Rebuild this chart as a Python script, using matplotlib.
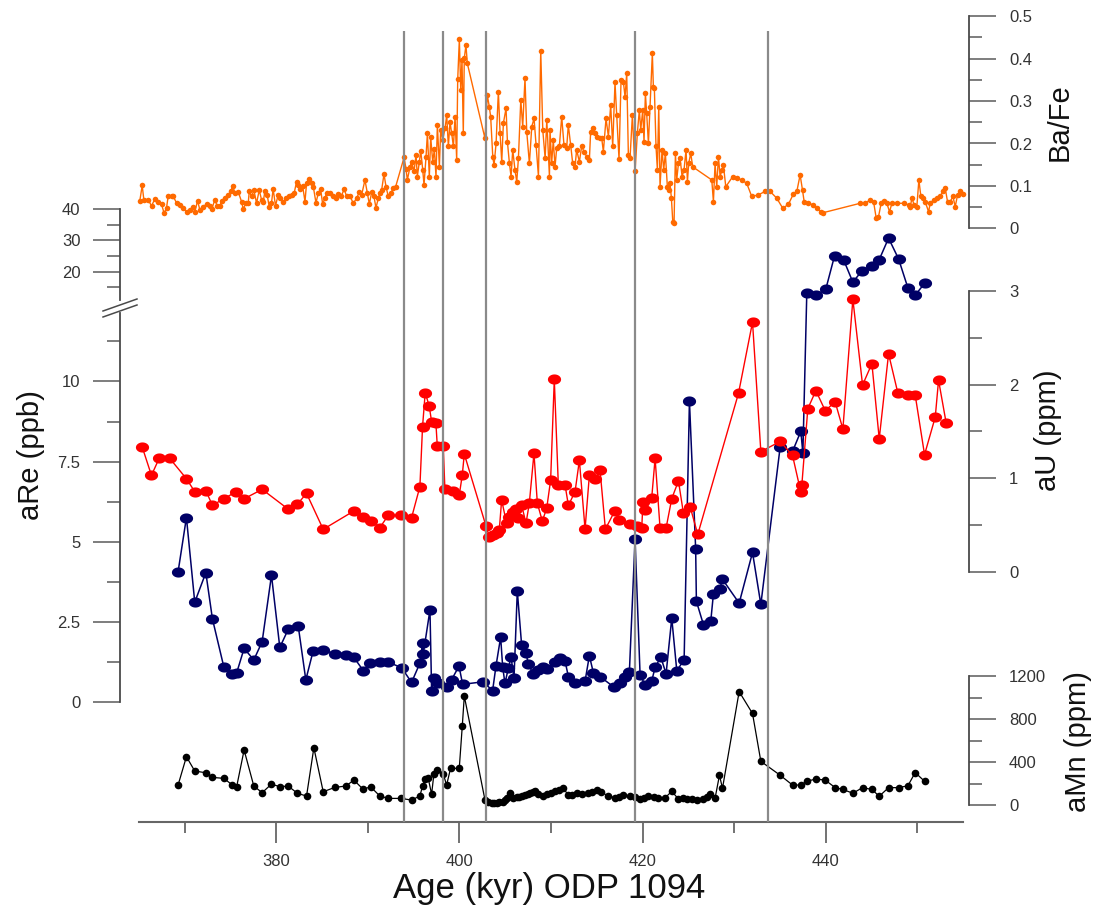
import numpy as np
import matplotlib
matplotlib.use('Agg')
import matplotlib.pyplot as plt
from matplotlib import font_manager
from matplotlib.path import Path
from matplotlib.lines import Line2D

# ---------------- data ----------------
# Ba/Fe (orange)
bafe_age = [
    365.09, 365.35, 365.53, 366.00, 366.37, 366.73, 367.10, 367.46, 367.75, 368.01,
    368.19, 368.55, 368.74, 369.10, 369.46, 369.83, 370.19, 370.56, 370.92, 371.10,
    371.40, 371.65, 372.01, 372.38, 372.74, 372.93, 373.29, 373.54, 373.84, 374.02,
    374.38, 374.75, 375.04, 375.22, 375.48, 375.84, 376.20, 376.39, 376.68, 376.93,
    377.04, 377.30, 377.55, 377.84, 378.13, 378.39, 378.57, 378.75, 379.00, 379.22,
    379.47, 379.65, 379.91, 380.20, 380.45, 380.75, 381.11, 381.40, 381.66, 381.95,
    382.21, 382.40, 382.58, 382.87, 383.13, 383.31, 383.60, 383.85, 384.04, 384.33,
    384.58, 384.84, 385.06, 385.31, 385.49, 385.86, 386.22, 386.51, 386.77, 387.06,
    387.42, 387.68, 388.04, 388.41, 388.77, 389.06, 389.32, 389.68, 389.94, 390.16,
    390.41, 390.67, 390.88, 391.14, 391.32, 391.50, 391.76, 391.98, 392.23, 392.49,
    392.78, 393.03, 393.95, 394.16, 394.31, 394.60, 394.78, 395.04, 395.26, 395.40,
    395.62, 395.77, 395.99, 396.13, 396.35, 396.50, 396.71, 396.86, 397.08, 397.26,
    397.44, 397.59, 397.81, 397.95, 398.17, 398.43, 398.61, 398.79, 398.97, 399.15,
    399.34, 399.52, 399.70, 399.81, 399.99, 400.14, 400.28, 400.42, 400.53, 400.71,
    400.86, 402.79, 403.04, 403.26, 403.41, 403.64, 403.78, 404.00, 404.25, 404.44,
    404.62, 404.80, 405.09, 405.24, 405.46, 405.64, 405.82, 406.07, 406.26, 406.44,
    406.70, 406.91, 407.16, 407.35, 407.64, 407.90, 408.15, 408.37, 408.63, 408.88,
    409.10, 409.36, 409.54, 409.83,
    409.89, 410.07, 410.25, 410.44, 410.62, 410.91, 411.17, 411.42, 411.71, 411.89,
    412.15, 412.37, 412.62, 412.80, 413.10, 413.35, 413.61, 413.90, 414.19, 414.33,
    414.55, 414.81, 415.06, 415.35, 415.54, 415.72, 416.01, 416.27, 416.52, 416.74,
    416.99, 417.18, 417.43, 417.65, 417.90, 418.09, 418.27, 418.45, 418.63, 418.89,
    419.18, 419.43, 419.65, 419.80, 420.02, 420.16, 420.31, 420.45, 420.64, 420.82,
    421.07, 421.18, 421.29, 421.47, 421.62, 421.77, 421.91, 422.13, 422.31, 422.49,
    422.71, 422.86, 423.00, 423.15, 423.30, 423.44, 423.59, 423.73, 423.92, 424.10,
    424.32, 424.53, 424.75, 424.90, 425.04, 425.26, 425.48, 427.56, 427.74, 427.92,
    428.10, 428.29, 428.47, 428.69, 428.83, 429.09, 429.85, 430.36, 430.84, 431.38,
    431.93, 432.66, 433.39, 433.93, 434.66, 435.32, 435.94, 436.48, 436.85, 437.21,
    437.47, 437.65, 438.12, 438.67, 439.03, 439.47, 439.76, 443.77, 444.32, 444.86,
    445.23, 445.52, 445.77, 446.06, 446.32, 446.68, 446.98, 447.23, 447.78, 448.51,
    449.05, 449.24, 449.42, 449.67, 449.96, 450.18, 450.40, 450.62, 450.87, 451.24,
    451.42, 451.78, 452.15, 452.51, 452.80, 453.06, 453.31, 453.60, 453.90, 454.15,
    454.41, 454.70, 454.99,
]
bafe_val = [
    0.065, 0.101, 0.067, 0.067, 0.053, 0.069, 0.063, 0.057, 0.035, 0.049,
    0.076, 0.076, 0.075, 0.060, 0.055, 0.047, 0.039, 0.043, 0.051, 0.039,
    0.065, 0.043, 0.051, 0.057, 0.053, 0.045, 0.067, 0.053, 0.053, 0.065,
    0.071, 0.079, 0.087, 0.100, 0.084, 0.086, 0.063, 0.045, 0.060, 0.059,
    0.087, 0.075, 0.090, 0.059, 0.090, 0.067, 0.063, 0.087, 0.079, 0.051,
    0.059, 0.093, 0.053, 0.079, 0.072, 0.063, 0.071, 0.076, 0.079, 0.083,
    0.110, 0.102, 0.092, 0.100, 0.063, 0.108, 0.117, 0.106, 0.098, 0.060,
    0.083, 0.092, 0.057, 0.071, 0.083, 0.084, 0.076, 0.071, 0.081, 0.075,
    0.092, 0.075, 0.076, 0.059, 0.071, 0.085, 0.079, 0.114, 0.083, 0.057,
    0.085, 0.075, 0.048, 0.071, 0.083, 0.090, 0.128, 0.098, 0.075, 0.083,
    0.094, 0.098, 0.167, 0.141, 0.114, 0.145, 0.157, 0.134, 0.173, 0.122,
    0.157, 0.183, 0.138, 0.102, 0.169, 0.224, 0.122, 0.215, 0.157, 0.186,
    0.122, 0.244, 0.145, 0.232, 0.208, 0.236, 0.267, 0.193, 0.251, 0.224,
    0.193, 0.263, 0.161, 0.351, 0.446, 0.326, 0.397, 0.224, 0.401, 0.432,
    0.389, 0.212, 0.314, 0.287, 0.263, 0.169, 0.149, 0.200, 0.322, 0.224,
    0.157, 0.248, 0.283, 0.204, 0.153, 0.122, 0.185, 0.137, 0.110, 0.165,
    0.303, 0.240, 0.354, 0.228, 0.153, 0.240, 0.259, 0.196, 0.122, 0.419,
    0.232, 0.165, 0.255, 0.122,
    0.232, 0.153, 0.208, 0.145, 0.189, 0.193, 0.263, 0.196, 0.189, 0.244,
    0.196, 0.153, 0.145, 0.185, 0.157, 0.193, 0.181, 0.169, 0.161, 0.228,
    0.236, 0.224, 0.216, 0.212, 0.212, 0.181, 0.259, 0.216, 0.291, 0.193,
    0.344, 0.267, 0.163, 0.350, 0.346, 0.310, 0.366, 0.173, 0.165, 0.267,
    0.134, 0.224, 0.279, 0.232, 0.279, 0.204, 0.318, 0.271, 0.200, 0.287,
    0.413, 0.334, 0.330, 0.193, 0.138, 0.287, 0.098, 0.185, 0.138, 0.177,
    0.098, 0.090, 0.106, 0.071, 0.016, 0.012, 0.177, 0.114, 0.153, 0.165,
    0.122, 0.138, 0.185, 0.110, 0.153, 0.177, 0.145, 0.114, 0.063, 0.153,
    0.098, 0.169, 0.122, 0.138, 0.149, 0.098, 0.122, 0.118, 0.114, 0.106,
    0.075, 0.079, 0.087, 0.087, 0.071, 0.047, 0.057, 0.081, 0.087, 0.126,
    0.090, 0.063, 0.059, 0.055, 0.047, 0.039, 0.037, 0.059, 0.059, 0.067,
    0.063, 0.024, 0.027, 0.059, 0.065, 0.059, 0.039, 0.059, 0.059, 0.059,
    0.055, 0.051, 0.071, 0.055, 0.051, 0.114, 0.075, 0.071, 0.063, 0.039,
    0.059, 0.067, 0.071, 0.075, 0.087, 0.094, 0.063, 0.063, 0.075, 0.051,
    0.079, 0.087, 0.081,
]

# aU (red, ppm)
au_age = [
    365.34, 366.36, 367.20, 368.36, 370.18, 371.09, 372.30, 373.02, 374.26, 375.57,
    376.49, 378.45, 381.22, 382.31, 383.30, 385.12, 388.47, 389.49, 390.29, 391.31,
    392.22, 393.57, 394.77, 395.68, 395.97, 396.26, 396.70, 396.96, 397.43, 397.58,
    398.23, 398.41, 399.25, 399.98, 400.31, 400.53, 402.90, 403.26, 403.70, 404.06,
    404.35, 404.61, 405.15, 405.45, 405.81, 406.17, 406.43, 406.79, 407.27, 407.63,
    408.14, 408.51, 409.05, 409.53, 409.96, 410.36, 410.80, 411.53, 411.90, 412.63,
    413.10, 413.72, 414.19, 414.81, 415.36, 415.94, 416.96, 417.47, 418.64, 419.36,
    419.91, 420.05, 420.31, 421.00, 421.37, 421.91, 422.57, 423.19, 423.92, 424.46,
    425.19, 426.03, 430.48, 432.01, 432.92, 435.03, 436.38, 437.29, 437.40, 438.05,
    438.93, 439.95, 441.04, 441.88, 442.97, 444.03, 445.05, 445.85, 446.87, 447.89,
    448.98, 449.78, 450.80, 451.97, 452.33, 453.17,
]
au_val = [
    1.336, 1.030, 1.211, 1.211, 0.994, 0.855, 0.866, 0.709, 0.780, 0.852,
    0.780, 0.880, 0.674, 0.723, 0.837, 0.453, 0.649, 0.585, 0.545, 0.471,
    0.602, 0.602, 0.577, 0.909, 1.550, 1.913, 1.770, 1.603, 1.585, 1.343,
    1.343, 0.884, 0.866, 0.820, 1.033, 1.258, 0.488, 0.374, 0.392, 0.417,
    0.446, 0.766, 0.517, 0.588, 0.642, 0.667, 0.570, 0.713, 0.517, 0.731,
    1.265, 0.731, 0.542, 0.677, 0.980, 2.055, 0.930, 0.930, 0.708, 0.857,
    1.191, 0.455, 1.030, 0.990, 1.082, 0.455, 0.648, 0.548, 0.507, 0.487,
    0.467, 0.749, 0.660, 0.789, 1.211, 0.467, 0.467, 0.781, 0.970, 0.628,
    0.696, 0.399, 1.907, 2.667, 1.283, 1.392, 1.243, 0.849, 0.930, 1.742,
    1.935, 1.722, 1.814, 1.525, 2.912, 1.995, 2.224, 1.420, 2.329, 1.907,
    1.887, 1.887, 1.251, 1.653, 2.047, 1.585,
]

# aRe (blue, ppb)
are_age = [
    369.27, 370.18, 371.09, 372.30, 373.02, 374.26, 375.21, 375.65, 376.48, 377.54,
    378.45, 379.47, 380.38, 381.29, 382.39, 383.22, 384.03, 385.12, 386.39, 387.60,
    388.47, 389.49, 390.22, 391.31, 392.22, 393.68, 394.77, 395.68, 395.97, 396.05,
    396.78, 396.96, 397.21, 397.69, 398.60, 399.14, 399.95, 400.35, 402.60, 403.62,
    403.99, 404.50, 404.72, 404.97, 405.34, 405.63, 405.96, 406.32, 406.79, 407.27,
    407.52, 408.07, 408.62, 409.16, 409.53, 410.44, 410.99, 411.53, 411.90, 412.63,
    413.72, 414.19, 414.63, 415.36, 416.89, 417.54, 418.09, 418.56, 419.18, 419.73,
    420.28, 421.00, 421.37, 421.99, 422.57, 423.19, 423.74, 424.54, 425.12, 425.80,
    425.88, 426.65, 427.45, 427.74, 428.47, 428.69, 430.55, 432.01, 432.92, 435.03,
    436.38, 437.29, 437.51, 437.94, 438.96, 440.02, 440.97, 441.95, 442.97, 443.95,
    445.05, 445.85, 446.87, 447.96, 448.98, 449.78, 450.80,
]
are_val = [
    4.07, 5.76, 3.12, 4.04, 2.60, 1.11, 0.88, 0.90, 1.68, 1.32,
    1.89, 3.96, 1.71, 2.27, 2.38, 0.70, 1.61, 1.63, 1.51, 1.47,
    1.40, 0.99, 1.22, 1.27, 1.25, 1.08, 0.62, 1.22, 1.86, 1.51,
    2.88, 0.36, 0.75, 0.59, 0.47, 0.70, 1.13, 0.56, 0.64, 0.36,
    1.13, 2.03, 1.11, 0.59, 1.06, 1.42, 0.75, 3.47, 1.79, 1.55,
    1.19, 0.88, 1.01, 1.11, 1.04, 1.27, 1.39, 1.29, 0.80, 0.59,
    0.66, 1.45, 0.92, 0.80, 0.47, 0.59, 0.80, 0.94, 5.08, 0.86,
    0.54, 0.66, 1.09, 1.41, 0.89, 2.62, 0.98, 1.33, 9.39, 4.79,
    3.15, 2.42, 2.53, 3.38, 3.52, 3.85, 3.09, 4.67, 3.05, 7.96,
    7.82, 8.45, 7.76, 13.29, 12.69, 14.49, 25.06, 23.86, 16.65, 20.25,
    21.69, 23.86, 30.70, 24.10, 14.85, 12.69, 16.29,
]

# aMn (black, ppm)
amn_age = [
    369.27, 370.18, 371.09, 372.30, 373.02, 374.26, 375.21, 375.65, 376.48, 377.54,
    378.45, 379.47, 380.38, 381.29, 382.31, 383.30, 384.10, 385.12, 386.39, 387.60,
    388.47, 389.49, 390.29, 391.31, 392.22, 393.57, 394.77, 395.68, 395.97, 396.23,
    396.59, 396.96, 397.21, 397.58, 398.23, 398.60, 399.03, 399.98, 400.31, 400.53,
    402.79, 403.15, 403.51, 403.77, 404.06, 404.35, 404.72, 404.97, 405.24, 405.52,
    405.88, 406.25, 406.54, 406.79, 407.16, 407.52, 407.70, 408.07, 408.25, 408.62,
    409.16, 409.53, 410.00, 410.44, 410.90, 411.35, 411.90, 412.30, 412.81, 413.40,
    414.08, 414.50, 414.99, 415.50, 416.20, 416.96, 417.40, 417.91, 418.64, 419.20,
    419.73, 420.20, 420.64, 421.20, 421.73, 422.46, 423.19, 423.92, 424.40, 424.83,
    425.40, 425.92, 426.65, 427.00, 427.38, 427.93, 428.40, 428.73, 430.55, 432.01,
    432.92, 435.03, 436.38, 437.29, 437.94, 438.93, 439.95, 441.04, 441.88, 442.97,
    444.03, 445.05, 445.85, 446.87, 447.96, 448.98, 449.78, 450.80,
]
amn_val = [
    188, 451, 318, 302, 259, 250, 188, 166, 513, 179,
    117, 197, 172, 179, 111, 86, 534, 126, 166, 179,
    234, 148, 172, 86, 64, 64, 49, 86, 179, 240,
    250, 104, 290, 327, 290, 188, 343, 343, 736, 1014,
    49, 33, 24, 18, 24, 30, 33, 49, 64, 111,
    64, 74, 80, 86, 96, 104, 117, 126, 135, 104,
    86, 105, 115, 129, 140, 157, 94, 100, 112, 105,
    112, 125, 140, 120, 90, 70, 80, 94, 87, 75,
    59, 70, 87, 80, 70, 70, 129, 59, 65, 59,
    55, 52, 59, 80, 105, 70, 279, 157, 1055, 852,
    408, 279, 188, 188, 223, 244, 234, 164, 147, 112,
    164, 147, 84, 164, 164, 181, 304, 223,
]

event_ages = [393.9, 398.2, 402.9, 419.2, 433.75]

x_major = [380, 400, 420, 440]
x_minor = [370, 390, 410, 430, 450]
are_ticks = [0, 2.5, 5, 7.5, 10, 20, 30, 40]
are_labels = ['0', '2.5', '5', '7.5', '10', '20', '30', '40']
are_minor = [1.25, 3.75, 6.25, 8.75, 11.25, 15, 25, 35]
au_ticks = [0, 1, 2, 3]
au_minor = [0.5, 1.5, 2.5]
bafe_ticks = [0, 0.1, 0.2, 0.3, 0.4, 0.5]
bafe_labels = ['0', '0.1', '0.2', '0.3', '0.4', '0.5']
bafe_minor = [0.05, 0.15, 0.25, 0.35, 0.45]
amn_ticks = [0, 400, 800, 1200]
amn_minor = [200, 600, 1000]

# ---------------- style ----------------
names = {f.name for f in font_manager.fontManager.ttflist}
NARROW = 'Liberation Sans Narrow' in names
TITLE_FAMILY = ['Liberation Sans Narrow', 'DejaVu Sans'] if NARROW else ['Liberation Sans', 'DejaVu Sans']
YLAB_SIZE = 24 if NARROW else 21
XLAB_SIZE = 28 if NARROW else 25
plt.rcParams['font.family'] = ['Liberation Sans', 'DejaVu Sans']

W, H = 1100, 905
fig = plt.figure(figsize=(W / 100, H / 100), dpi=100)

XLIM = (365, 455)
SPINE_C = '#4a4a4a'
TICK_C = '#5a5a5a'
LAB_C = '#333333'


def rect(top, bottom, left=139, right=963):
    return [left / W, (H - bottom) / H, (right - left) / W, (bottom - top) / H]


def yaxis_style(ax, side, outward_px):
    for s in ['top', 'bottom', 'left', 'right']:
        ax.spines[s].set_visible(s == side)
    ax.spines[side].set_position(('outward', outward_px * 72 / 100))
    ax.spines[side].set_color(SPINE_C)
    ax.spines[side].set_linewidth(1.3)
    ax.set_xticks([])
    ax.set_xlim(*XLIM)
    ax.patch.set_visible(False)
    if side == 'right':
        ax.yaxis.tick_right()
    ax.tick_params(axis='y', which='major', length=19.5, width=1.1, color=TICK_C,
                   labelcolor=LAB_C, labelsize=12, pad=9)
    ax.tick_params(axis='y', which='minor', length=9.5, width=1.1, color=TICK_C)


# base axes with the age axis
ax0 = fig.add_axes(rect(31, 822))
ax0.set_xlim(*XLIM)
ax0.set_ylim(0, 1)
for s in ['top', 'left', 'right']:
    ax0.spines[s].set_visible(False)
ax0.spines['bottom'].set_color('#666666')
ax0.spines['bottom'].set_linewidth(1.5)
ax0.set_yticks([])
ax0.set_xticks(x_major)
ax0.set_xticklabels([str(v) for v in x_major])
ax0.set_xticks(x_minor, minor=True)
ax0.tick_params(axis='x', which='major', length=15, width=1.2, color=TICK_C,
                labelcolor=LAB_C, labelsize=12, pad=8)
ax0.tick_params(axis='x', which='minor', length=8, width=1.2, color=TICK_C)
ax0.patch.set_visible(False)

# Ba/Fe
axb = fig.add_axes(rect(16.3, 228.3))
axb.plot(bafe_age, bafe_val, '-o', color='#ff6a00', lw=1.0, ms=4.0, mew=0, clip_on=False)
axb.set_ylim(0, 0.5)
axb.set_yticks(bafe_ticks)
axb.set_yticklabels(bafe_labels)
axb.set_yticks(bafe_minor, minor=True)
yaxis_style(axb, 'right', 6.3)

# aRe with broken scale
B, K = 12.71, 3.135 / 32.08


def fwd(v):
    v = np.asarray(v, dtype=float)
    return np.where(v <= B, v, B + (v - B) * K)


def inv(u):
    u = np.asarray(u, dtype=float)
    return np.where(u <= B, u, B + (u - B) / K)


t = np.linspace(0, 2 * np.pi, 41)
ELL = Path(np.column_stack([1.3 * np.cos(t), np.sin(t)]))

axr = fig.add_axes(rect(209, 702.3))
axr.set_yscale('function', functions=(fwd, inv))
axr.plot(are_age, are_val, '-', color='#000066', lw=1.1, marker=ELL, ms=9.5, mew=0,
         clip_on=False)
axr.set_ylim(0, 40)
axr.set_yticks(are_ticks)
axr.set_yticklabels(are_labels)
axr.set_yticks(are_minor, minor=True)
yaxis_style(axr, 'left', 19)

# aU
axu = fig.add_axes(rect(291, 571.7))
axu.plot(au_age, au_val, '-', color='#ff0000', lw=1.0, marker=ELL, ms=9.5, mew=0,
         clip_on=False)
axu.set_ylim(0, 3)
axu.set_yticks(au_ticks)
axu.set_yticklabels([str(v) for v in au_ticks])
axu.set_yticks(au_minor, minor=True)
yaxis_style(axu, 'right', 6.3)

# aMn
axm = fig.add_axes(rect(676, 805.3))
axm.plot(amn_age, amn_val, '-o', color='#000000', lw=0.9, ms=5.5, mew=0, clip_on=False)
axm.set_ylim(0, 1200)
axm.set_yticks(amn_ticks)
axm.set_yticklabels([str(v) for v in amn_ticks])
axm.set_yticks(amn_minor, minor=True)
yaxis_style(axm, 'right', 6.3)

# vertical event lines on top
axv = fig.add_axes(rect(31, 822))
axv.set_xlim(*XLIM)
axv.set_ylim(0, 1)
axv.axis('off')
for a in event_ages:
    axv.axvline(a, color='#8a8a8a', lw=1.6)

# axis break marks on the aRe spine
fig.lines.append(Line2D([120 / W, 120 / W], [1 - 310 / H, 1 - 303 / H], transform=fig.transFigure,
                        color='white', lw=3))
fig.lines.append(Line2D([103 / W, 137 / W], [1 - 317 / H, 1 - 305 / H], transform=fig.transFigure,
                        color=SPINE_C, lw=1.1))
fig.lines.append(Line2D([103 / W, 137 / W], [1 - 311 / H, 1 - 299 / H], transform=fig.transFigure,
                        color=SPINE_C, lw=1.1))

# axis titles
fig.text(549 / W, 1 - 888 / H, 'Age (kyr) ODP 1094', ha='center', va='center',
         fontsize=XLAB_SIZE, family=TITLE_FAMILY, color='#111111')
fig.text(31 / W, 1 - 455 / H, 'aRe (ppb)', rotation=90, ha='center', va='center',
         fontsize=YLAB_SIZE, family=TITLE_FAMILY, color='#111111')
fig.text(1048 / W, 1 - 430 / H, 'aU (ppm)', rotation=90, ha='center', va='center',
         fontsize=YLAB_SIZE, family=TITLE_FAMILY, color='#111111')
fig.text(1060 / W, 1 - 122 / H, 'Ba/Fe', rotation=90, ha='center', va='center',
         fontsize=YLAB_SIZE, family=TITLE_FAMILY, color='#111111')
fig.text(1078 / W, 1 - 742 / H, 'aMn (ppm)', rotation=90, ha='center', va='center',
         fontsize=YLAB_SIZE, family=TITLE_FAMILY, color='#111111')

fig.savefig('out.png', dpi=100)
